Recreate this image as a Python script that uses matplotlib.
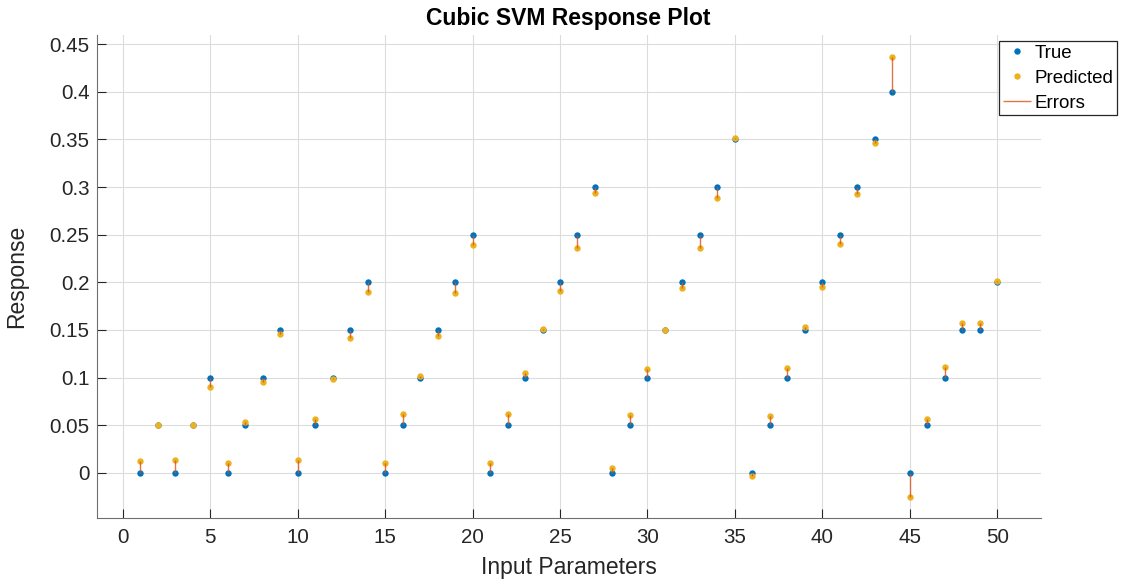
import numpy as np
import matplotlib
matplotlib.use("Agg")
import matplotlib.pyplot as plt

plt.rcParams['font.family'] = ['Liberation Sans', 'DejaVu Sans']

# Observation index and responses
obs_index = list(range(1, 51))
true_response = [
    0.00, 0.05, 0.00, 0.05, 0.10, 0.00, 0.05, 0.10, 0.15, 0.00,
    0.05, 0.10, 0.15, 0.20, 0.00, 0.05, 0.10, 0.15, 0.20, 0.25,
    0.00, 0.05, 0.10, 0.15, 0.20, 0.25, 0.30, 0.00, 0.05, 0.10,
    0.15, 0.20, 0.25, 0.30, 0.35, 0.00, 0.05, 0.10, 0.15, 0.20,
    0.25, 0.30, 0.35, 0.40, 0.00, 0.05, 0.10, 0.15, 0.15, 0.20,
]
predicted_response = [
    0.012, 0.050, 0.013, 0.050, 0.090, 0.010, 0.053, 0.095, 0.146, 0.013,
    0.056, 0.098, 0.142, 0.190, 0.010, 0.062, 0.102, 0.144, 0.189, 0.239,
    0.010, 0.062, 0.105, 0.151, 0.191, 0.236, 0.294, 0.005, 0.061, 0.109,
    0.150, 0.194, 0.236, 0.289, 0.352, -0.003, 0.060, 0.110, 0.153, 0.195,
    0.240, 0.293, 0.346, 0.437, -0.025, 0.057, 0.111, 0.157, 0.157, 0.201,
]
x_ticks = [0, 5, 10, 15, 20, 25, 30, 35, 40, 45, 50]
y_ticks = [0, 0.05, 0.1, 0.15, 0.2, 0.25, 0.3, 0.35, 0.4, 0.45]
y_tick_labels = ['0', '0.05', '0.1', '0.15', '0.2', '0.25', '0.3', '0.35', '0.4', '0.45']

BLUE = '#0072BD'
YELLOW = '#EDB120'
ORANGE = '#D95319'
AXIS = '#262626'

fig = plt.figure(figsize=(11.21, 5.84), dpi=100)
ax = fig.add_axes([96.5 / 1121, 1 - 518 / 584, (1041 - 96.5) / 1121, (518 - 35) / 584])

ax.plot(obs_index, true_response, linestyle='none', marker='o', markersize=4.6,
        markeredgewidth=0, color=BLUE, zorder=3, label='True')
ax.plot(obs_index, predicted_response, linestyle='none', marker='o', markersize=4.6,
        markeredgewidth=0, color=YELLOW, zorder=4, label='Predicted')
ax.vlines(obs_index, true_response, predicted_response, colors=ORANGE,
          linewidth=1.0, alpha=0.8, zorder=5, label='Errors')

ax.set_xlim(-1.5, 52.5)
ax.set_ylim(-0.0474, 0.4596)
ax.set_xticks(x_ticks)
ax.set_yticks(y_ticks)
ax.set_yticklabels(y_tick_labels)

ax.grid(True, color='#dcdcdc', linewidth=0.8)
ax.set_axisbelow(True)
for side in ('top', 'right'):
    ax.spines[side].set_visible(False)
for side in ('left', 'bottom'):
    ax.spines[side].set_color('#6e6e6e')
    ax.spines[side].set_linewidth(0.8)

ax.tick_params(axis='both', direction='in', length=6.5, width=0.8,
               color=AXIS, labelcolor=AXIS, labelsize=14.8)
ax.tick_params(axis='x', pad=7)
ax.tick_params(axis='y', pad=5)

ax.set_title('Cubic SVM Response Plot', fontsize=16.5, fontweight='bold',
             color='black', pad=7)
ax.set_xlabel('Input Parameters', fontsize=16.5, color=AXIS, labelpad=7)
ax.set_ylabel('Response', fontsize=16.5, color=AXIS)
ax.yaxis.set_label_coords(-0.0725, 0.5)

leg = ax.legend(loc='upper left', bbox_to_anchor=(999 / 1121, 1 - 40.7 / 584),
                bbox_transform=fig.transFigure, borderaxespad=0, fontsize=13.5,
                frameon=True, fancybox=False, framealpha=1, edgecolor=AXIS,
                handlelength=1.5, handletextpad=0.2, borderpad=0.2,
                labelspacing=0.42, markerscale=1.0)
leg.get_frame().set_linewidth(0.9)
for t in leg.get_texts():
    t.set_color('black')

fig.savefig('out.png', dpi=100)
